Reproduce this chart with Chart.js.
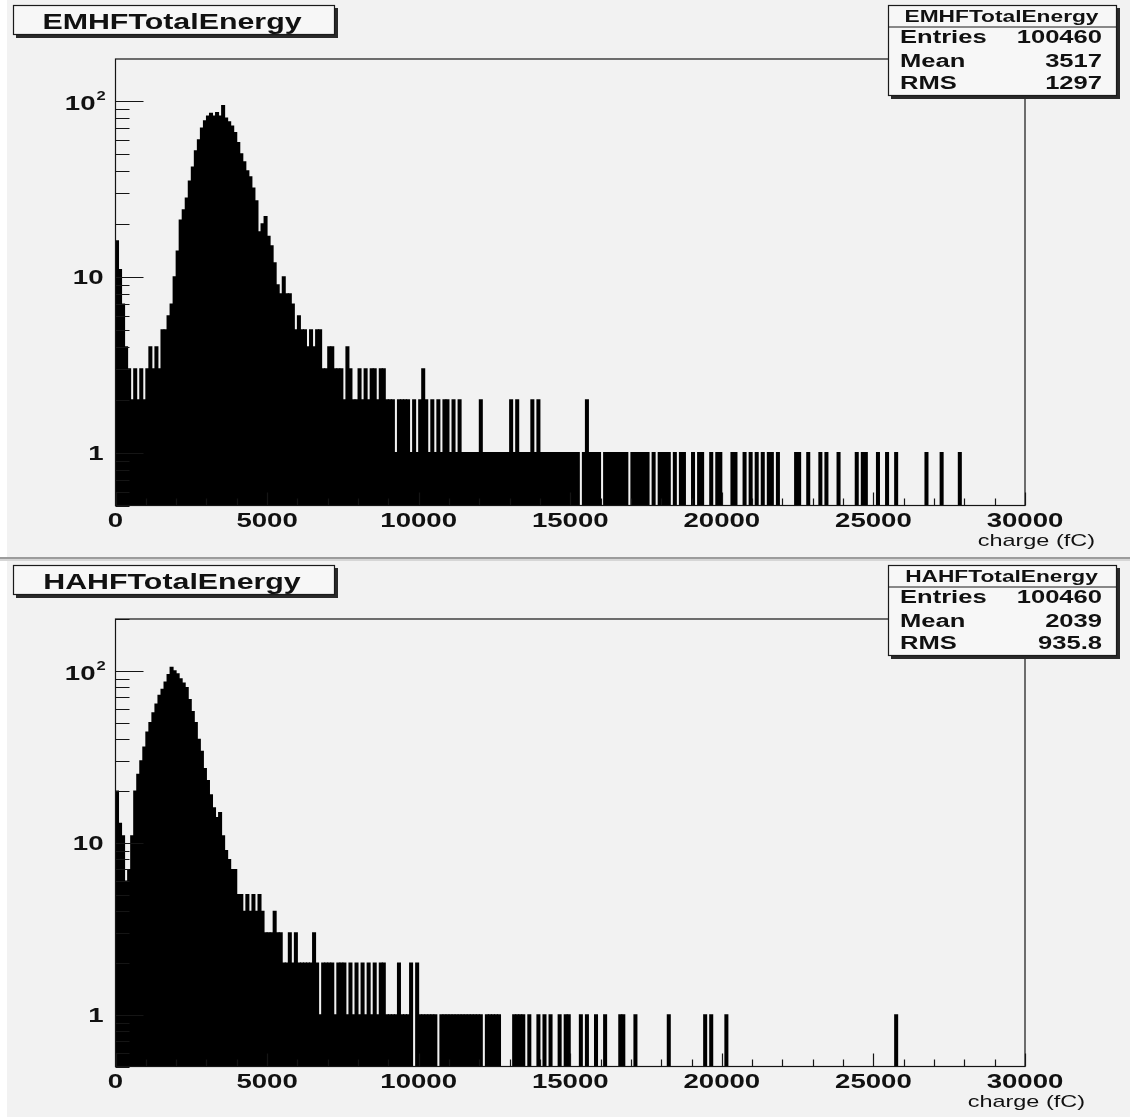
<!DOCTYPE html>
<html>
<head>
<meta charset="utf-8">
<title>EMHF / HAHF total energy</title>
<script src="https://cdn.jsdelivr.net/npm/chart.js@4.4.1/dist/chart.umd.min.js"></script>
<style>
  body { margin: 0; background: #fff; }
  #page { position: relative; width: 1130px; height: 1117px; background: #f2f2f2; overflow: hidden; }
  #page canvas { position: absolute; left: 0; }
  #strip { position: absolute; left: 0; top: 0; width: 7px; height: 1117px; background: #fff; }
  #sep { position: absolute; left: 0; top: 557px; width: 1130px; height: 2px; background: #9c9c9c; border-bottom: 2px solid #d6d6d6; }
</style>
</head>
<body>
<div id="page">
  <div id="strip"></div>
  <div id="sep"></div>
  <canvas id="emChart" width="1130" height="557" style="top:0"></canvas>
  <canvas id="haChart" width="1130" height="557" style="top:560px"></canvas>
</div>
<script>
// histogram binning: 300 bins of 100 fC from 0 to 30000 fC
const binWidth = 100;
const xMin = 0;
const xMax = 30000;
const xTickValues = [0, 5000, 10000, 15000, 20000, 25000, 30000];
const xTickLabels = ['0', '5000', '10000', '15000', '20000', '25000', '30000'];
const yTickValues = [1, 10, 100];
const yTickLabels = ['1', '10', '10^2'];
const xTitle = 'charge (fC)';

// EMHFTotalEnergy counts per bin
const emCounts = [
  16, 11, 7, 4, 3, 2, 3, 2, 3, 2, 3, 4, 3, 4, 3, 5, 5, 6, 7, 10,
  14, 21, 24, 28, 35, 42, 52, 60, 70, 77, 82, 85, 82, 86, 82, 94, 80, 76, 72, 66,
  58, 50, 45, 40, 37, 32, 27, 18, 20, 22, 17, 15, 12, 9, 8, 10, 8, 8, 7, 5,
  6, 5, 5, 4, 5, 4, 5, 5, 3, 3, 4, 4, 3, 3, 3, 2, 4, 3, 2, 2,
  3, 2, 3, 2, 3, 3, 2, 3, 3, 2, 2, 2, 1, 2, 2, 2, 2, 1, 2, 1,
  2, 3, 2, 1, 2, 1, 2, 1, 2, 2, 1, 2, 1, 2, 1, 1, 1, 1, 1, 1,
  2, 1, 1, 1, 1, 1, 1, 1, 1, 1, 2, 1, 2, 1, 1, 1, 1, 2, 1, 2,
  1, 1, 1, 1, 1, 1, 1, 1, 1, 1, 1, 1, 1, 0, 1, 2, 1, 1, 1, 1,
  0, 1, 1, 1, 1, 1, 1, 1, 1, 0, 1, 1, 1, 1, 1, 1, 0, 1, 0, 1,
  1, 1, 1, 0, 1, 0, 1, 1, 0, 0, 1, 0, 1, 1, 0, 0, 1, 0, 1, 1,
  0, 0, 0, 1, 1, 0, 0, 1, 0, 1, 0, 1, 0, 1, 0, 1, 1, 0, 1, 0,
  0, 0, 0, 0, 1, 1, 0, 0, 1, 0, 0, 0, 1, 0, 1, 0, 0, 0, 1, 0,
  0, 0, 0, 0, 1, 0, 1, 1, 0, 0, 0, 1, 0, 0, 1, 0, 0, 1, 0, 0,
  0, 0, 0, 0, 0, 0, 0, 1, 0, 0, 0, 0, 1, 0, 0, 0, 0, 0, 1, 0,
  0, 0, 0, 0, 0, 0, 0, 0, 0, 0, 0, 0, 0, 0, 0, 0, 0, 0, 0, 0
];

// HAHFTotalEnergy counts per bin
const haCounts = [
  20, 13, 11, 6, 7, 11, 20, 25, 30, 36, 44, 50, 57, 64, 72, 78, 86, 95, 105, 100,
  96, 90, 85, 80, 68, 58, 50, 40, 34, 27, 23, 19, 16, 14, 15, 11, 9, 8, 7, 7,
  5, 5, 4, 5, 4, 5, 4, 5, 4, 3, 3, 3, 4, 3, 3, 2, 2, 3, 2, 3,
  2, 2, 2, 2, 2, 3, 2, 1, 2, 2, 2, 2, 1, 2, 2, 2, 1, 2, 1, 2,
  1, 2, 1, 2, 1, 2, 1, 2, 2, 1, 1, 1, 1, 2, 1, 1, 1, 2, 0, 2,
  1, 1, 1, 1, 1, 1, 0, 1, 1, 1, 1, 1, 1, 1, 1, 1, 1, 1, 1, 1,
  1, 0, 1, 1, 1, 1, 1, 0, 0, 0, 0, 1, 1, 1, 1, 0, 1, 0, 0, 1,
  0, 1, 0, 1, 0, 0, 1, 0, 1, 1, 0, 0, 0, 1, 0, 1, 0, 0, 1, 0,
  0, 1, 0, 0, 0, 0, 1, 1, 0, 0, 0, 1, 0, 0, 0, 0, 0, 0, 0, 0,
  0, 0, 1, 0, 0, 0, 0, 0, 0, 0, 0, 0, 0, 0, 1, 0, 1, 0, 0, 0,
  0, 1, 0, 0, 0, 0, 0, 0, 0, 0, 0, 0, 0, 0, 0, 0, 0, 0, 0, 0,
  0, 0, 0, 0, 0, 0, 0, 0, 0, 0, 0, 0, 0, 0, 0, 0, 0, 0, 0, 0,
  0, 0, 0, 0, 0, 0, 0, 0, 0, 0, 0, 0, 0, 0, 0, 0, 0, 1, 0, 0,
  0, 0, 0, 0, 0, 0, 0, 0, 0, 0, 0, 0, 0, 0, 0, 0, 0, 0, 0, 0,
  0, 0, 0, 0, 0, 0, 0, 0, 0, 0, 0, 0, 0, 0, 0, 0, 0, 0, 0, 0
];

const emStats = [['Entries', '100460'], ['Mean', '3517'], ['RMS', '1297']];
const haStats = [['Entries', '100460'], ['Mean', '2039'], ['RMS', '935.8']];

const binCenters = emCounts.map((c, i) => xMin + i * binWidth + binWidth / 2);

const FONT = '"Liberation Sans", Arial, Helvetica, sans-serif';
const SX = 1.38; // the reference text is stretched horizontally

function stretchText(ctx, str, x, y, font, align, sx) {
  ctx.save();
  ctx.font = font;
  ctx.textAlign = 'left';
  ctx.textBaseline = 'alphabetic';
  const w = ctx.measureText(str).width * sx;
  let x0 = x;
  if (align === 'right') x0 = x - w;
  if (align === 'center') x0 = x - w / 2;
  ctx.translate(x0, y);
  ctx.scale(sx, 1);
  ctx.fillText(str, 0, 0);
  ctx.restore();
  return w;
}

function shadowBox(ctx, x, y, w, h) {
  ctx.fillStyle = '#2a2a2a';
  ctx.fillRect(x + 3, y + 3, w, h);
  ctx.fillStyle = '#f7f7f7';
  ctx.fillRect(x, y, w, h);
  ctx.strokeStyle = '#1a1a1a';
  ctx.lineWidth = 1.2;
  ctx.strokeRect(x + 0.5, y + 0.5, w - 1, h - 1);
}

// draws the ROOT-like frame, axes, labels, title and stats box
const rootPad = {
  id: 'rootPad',
  afterDatasetsDraw(chart, args, o) {
    const ctx = chart.ctx;
    const {left, right, top, bottom} = chart.chartArea;
    const xs = chart.scales.x;
    const ys = chart.scales.y;
    ctx.save();

    // frame
    ctx.strokeStyle = '#151515';
    ctx.lineWidth = 1.2;
    ctx.strokeRect(left, top, right - left, bottom - top);

    // y ticks (log): major at decades, minor at 2..9
    ctx.beginPath();
    [0.1, 1, 10, 100].forEach(d => {
      for (let k = 1; k <= 9; k++) {
        const v = k * d;
        if (v < ys.min || v > ys.max) continue;
        const y = Math.round(ys.getPixelForValue(v)) + 0.5;
        ctx.moveTo(left, y);
        ctx.lineTo(left + (k === 1 ? 28 : 14), y);
      }
    });
    // x ticks: major every 5000, minor every 1000, pointing up
    for (let v = xMin; v <= xMax; v += 1000) {
      const x = Math.round(xs.getPixelForValue(v)) + 0.5;
      ctx.moveTo(x, bottom);
      ctx.lineTo(x, bottom - (v % 5000 === 0 ? 13 : 7));
    }
    ctx.stroke();

    // tick labels
    ctx.fillStyle = '#111';
    const lblFont = 'bold 20px ' + FONT;
    xTickValues.forEach((v, i) => {
      stretchText(ctx, xTickLabels[i], xs.getPixelForValue(v), bottom + 21, lblFont, 'center', SX);
    });
    yTickValues.forEach((v, i) => {
      const y = ys.getPixelForValue(v);
      const lab = yTickLabels[i];
      if (lab.indexOf('^') >= 0) {
        const [base, exp] = lab.split('^');
        stretchText(ctx, base, left - 20, y + 9, lblFont, 'right', SX);
        stretchText(ctx, exp, left - 19, y - 1, 'bold 12px ' + FONT, 'left', SX);
      } else {
        stretchText(ctx, lab, left - 12, y + 7, lblFont, 'right', SX);
      }
    });

    // axis title
    stretchText(ctx, xTitle, o.xTitleRight, bottom + 40, '17px ' + FONT, 'right', SX);

    // title box
    shadowBox(ctx, 13, 5, 322, 30);
    ctx.fillStyle = '#111';
    stretchText(ctx, o.title, 172, 28.5, 'bold 22px ' + FONT, 'center', SX);

    // stats box
    const bx = 888, by = 5, bw = 229, bh = 91;
    shadowBox(ctx, bx, by, bw, bh);
    ctx.fillStyle = '#111';
    stretchText(ctx, o.title, bx + bw / 2 - 1, 21.7, 'bold 16px ' + FONT, 'center', 1.42);
    ctx.beginPath();
    ctx.moveTo(bx, 27);
    ctx.lineTo(bx + bw, 27);
    ctx.stroke();
    const rowY = [43.3, 66.7, 89.3];
    o.stats.forEach((row, i) => {
      stretchText(ctx, row[0], 900, rowY[i], 'bold 18px ' + FONT, 'left', 1.42);
      stretchText(ctx, row[1], 1102, rowY[i], 'bold 18px ' + FONT, 'right', 1.42);
    });
    ctx.restore();
  }
};

function renderHist(canvasId, title, counts, stats, yMax, padBottom, xTitleRight) {
  const ctx = document.getElementById(canvasId);
  return new Chart(ctx, {
    type: 'bar',
    data: {
      labels: binCenters,
      datasets: [{
        label: title,
        data: counts.map(c => c > 0 ? c : null),
        backgroundColor: '#000',
        borderWidth: 0,
        barPercentage: 1,
        categoryPercentage: 1,
        inflateAmount: 0.5
      }]
    },
    options: {
      responsive: false,
      devicePixelRatio: 1,
      animation: false,
      events: [],
      layout: { padding: { left: 115.5, right: 105, top: 59, bottom: padBottom } },
      scales: {
        x: { type: 'linear', min: xMin, max: xMax, offset: false, display: false },
        y: { type: 'logarithmic', min: 0.5, max: yMax, display: false }
      },
      plugins: {
        legend: { display: false },
        tooltip: { enabled: false },
        rootPad: { title: title, stats: stats, xTitleRight: xTitleRight }
      }
    },
    plugins: [rootPad]
  });
}

renderHist('emChart', 'EMHFTotalEnergy', emCounts, emStats, 173, 51.5, 1095);
renderHist('haChart', 'HAHFTotalEnergy', haCounts, haStats, 200, 50.5, 1085);
</script>
</body>
</html>
